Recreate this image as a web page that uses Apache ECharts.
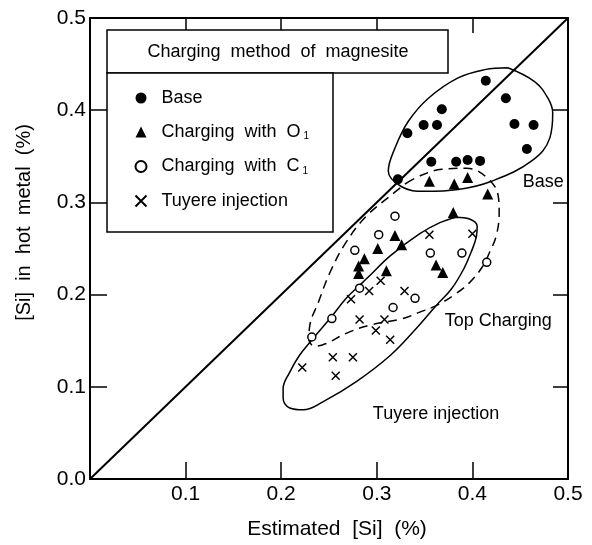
<!DOCTYPE html>
<html><head><meta charset="utf-8">
<script src="https://cdn.jsdelivr.net/npm/echarts@6/dist/echarts.min.js"></script>
<style>html,body{margin:0;padding:0;background:#fff}#c{width:592px;height:545px}</style>
</head><body><div id="c"></div>
<script>
// ---- data (estimated [Si] %, measured [Si] in hot metal %) ----
const baseSi = [[0.414,0.432],[0.435,0.413],[0.368,0.401],[0.349,0.384],[0.363,0.384],[0.332,0.375],[0.444,0.385],[0.464,0.384],[0.457,0.358],[0.357,0.344],[0.383,0.344],[0.395,0.346],[0.408,0.345],[0.322,0.325]];
const chargingO1 = [[0.355,0.323],[0.381,0.320],[0.395,0.327],[0.416,0.309],[0.380,0.289],[0.319,0.264],[0.326,0.254],[0.301,0.250],[0.287,0.239],[0.281,0.231],[0.281,0.223],[0.310,0.226],[0.362,0.232],[0.369,0.224]];
const chargingC1 = [[0.319,0.285],[0.302,0.265],[0.277,0.248],[0.356,0.245],[0.389,0.245],[0.415,0.235],[0.282,0.207],[0.340,0.196],[0.317,0.186],[0.253,0.174],[0.232,0.154]];
const tuyereInj = [[0.355,0.265],[0.400,0.266],[0.304,0.215],[0.292,0.204],[0.329,0.204],[0.273,0.195],[0.282,0.173],[0.308,0.173],[0.299,0.161],[0.314,0.151],[0.254,0.132],[0.275,0.132],[0.257,0.112],[0.222,0.121]];
const diagonal = [[0,0],[0.5,0.5]];
// group outlines (data units)
const baseOutline = [[0.437,0.446],[0.465,0.431],[0.479,0.413],[0.484,0.397],[0.481,0.370],[0.462,0.345],[0.420,0.323],[0.385,0.314],[0.350,0.312],[0.326,0.317],[0.312,0.334],[0.319,0.359],[0.333,0.388],[0.354,0.413],[0.385,0.435],[0.413,0.444],[0.437,0.446]];
const topChargingOutline = [[0.331,0.321],[0.348,0.330],[0.368,0.336],[0.394,0.337],[0.415,0.327],[0.427,0.307],[0.428,0.289],[0.425,0.264],[0.418,0.246],[0.411,0.231],[0.397,0.213],[0.380,0.199],[0.362,0.188],[0.345,0.181],[0.327,0.174],[0.293,0.167],[0.268,0.158],[0.247,0.147],[0.235,0.144],[0.229,0.152],[0.230,0.167],[0.239,0.192],[0.251,0.224],[0.268,0.257],[0.289,0.285],[0.314,0.307],[0.331,0.321]];
const tuyereOutline = [[0.383,0.284],[0.397,0.282],[0.405,0.274],[0.404,0.262],[0.399,0.247],[0.391,0.228],[0.378,0.206],[0.362,0.188],[0.341,0.163],[0.314,0.134],[0.279,0.106],[0.244,0.084],[0.223,0.075],[0.209,0.077],[0.202,0.088],[0.202,0.098],[0.209,0.116],[0.219,0.134],[0.233,0.152],[0.251,0.174],[0.268,0.196],[0.282,0.210],[0.293,0.221],[0.314,0.242],[0.345,0.266],[0.366,0.278],[0.383,0.284]];
const groupLabels = [
  {name:'Base', value:[0.474,0.322]},
  {name:'Top Charging', value:[0.427,0.171]},
  {name:'Tuyere injection', value:[0.362,0.070]}
];
const xTicks = [0,0.1,0.2,0.3,0.4,0.5];
const yTicks = [0,0.1,0.2,0.3,0.4,0.5];
const seriesNames = ['Base','Charging with O1','Charging with C1','Tuyere injection'];

const FONT = 'Liberation Sans';
const chart = echarts.init(document.getElementById('c'), null, {renderer:'canvas'});
const axisBase = {
  type:'value', min:0, max:0.5, interval:0.1,
  axisLine:{show:true, onZero:false, lineStyle:{color:'#000', width:2}},
  axisTick:{show:true, inside:true, length:17, lineStyle:{color:'#000', width:1.5}},
  splitLine:{show:false}
};
const mirrorTick = {show:true, inside:true, length:15, lineStyle:{color:'#000', width:1.5}};
const crossPath = 'path://M0,0L10,10M10,0L0,10';
const outline = (data, dashed) => ({
  type:'line', data, smooth:0.4, showSymbol:false, silent:true, z:1,
  lineStyle:{color:'#000', width:1.5, type: dashed ? [9,6] : 'solid'}
});
chart.setOption({
  animation:false,
  backgroundColor:'#fff',
  grid:{left:90, right:24, top:18, bottom:64},
  xAxis:[
    Object.assign({}, axisBase, {
      position:'bottom',
      axisLabel:{color:'#000', fontSize:21, fontFamily:FONT, margin:5,
        formatter: v => (v === xTicks[0] ? '' : v.toFixed(1))},
      name:'Estimated  [Si]  (%)', nameLocation:'middle', nameGap:40,
      nameTextStyle:{color:'#000', fontSize:21, fontFamily:FONT, padding:[0,0,0,16]}
    }),
    Object.assign({}, axisBase, {position:'top', axisLabel:{show:false}, axisTick:mirrorTick})
  ],
  yAxis:[
    Object.assign({}, axisBase, {
      position:'left',
      axisLabel:{color:'#000', fontSize:21, fontFamily:FONT, margin:4,
        formatter: v => v.toFixed(1)},
      name:'[Si]  in  hot  metal  (%)', nameLocation:'middle', nameGap:56,
      nameTextStyle:{color:'#000', fontSize:20, fontFamily:FONT, padding:[0,0,0,52]}
    }),
    Object.assign({}, axisBase, {position:'right', axisLabel:{show:false}, axisTick:mirrorTick})
  ],
  legend:{
    data:seriesNames, orient:'vertical', left:128, top:84, itemGap:16, z:60,
    itemWidth:11, itemHeight:11,
    formatter: n => {
      if (n === seriesNames[1]) return '{t|Charging  with  O}{s|1}';
      if (n === seriesNames[2]) return '{t|Charging  with  C}{s|1}';
      return '{t|' + n + '}';
    },
    textStyle:{color:'#000', fontSize:18, fontFamily:FONT, padding:[0,0,0,10],
      rich:{t:{fontSize:18, fontFamily:FONT, color:'#000', lineHeight:21},
            s:{fontSize:10, fontFamily:FONT, color:'#000', padding:[9,0,0,3]}}}
  },
  graphic:[
    {type:'rect', shape:{x:107, y:30, width:341, height:43}, style:{fill:'#fff', stroke:'#000', lineWidth:1.5}, z:50},
    {type:'rect', shape:{x:107, y:73, width:226, height:159}, style:{fill:'#fff', stroke:'#000', lineWidth:1.5}, z:50},
    {type:'text', x:278, y:52, style:{text:'Charging  method  of  magnesite', font:'18px "Liberation Sans"', fill:'#000', textAlign:'center', textVerticalAlign:'middle'}, z:51}
  ],
  series:[
    {type:'line', data:diagonal, showSymbol:false, silent:true, z:1, lineStyle:{color:'#000', width:2}},
    outline(baseOutline, false),
    outline(topChargingOutline, true),
    outline(tuyereOutline, false),
    {name:seriesNames[0], type:'scatter', data:baseSi, symbol:'circle', symbolSize:10, z:5, itemStyle:{color:'#000', opacity:1}},
    {name:seriesNames[1], type:'scatter', data:chargingO1, symbol:'triangle', symbolSize:11, z:5, itemStyle:{color:'#000', opacity:1}},
    {name:seriesNames[2], type:'scatter', data:chargingC1, symbol:'circle', symbolSize:8, z:5, itemStyle:{color:'#fff', borderColor:'#000', borderWidth:1.5, opacity:1}},
    {name:seriesNames[3], type:'scatter', data:tuyereInj, symbol:crossPath, symbolSize:8, z:5, itemStyle:{color:'none', borderColor:'#000', borderWidth:1.5, opacity:1}},
    {type:'scatter', data:groupLabels, symbolSize:0, silent:true, z:6, itemStyle:{opacity:1},
      label:{show:true, position:'inside', formatter:p => p.name, color:'#000', fontSize:18, fontFamily:FONT}}
  ]
});
</script></body></html>
